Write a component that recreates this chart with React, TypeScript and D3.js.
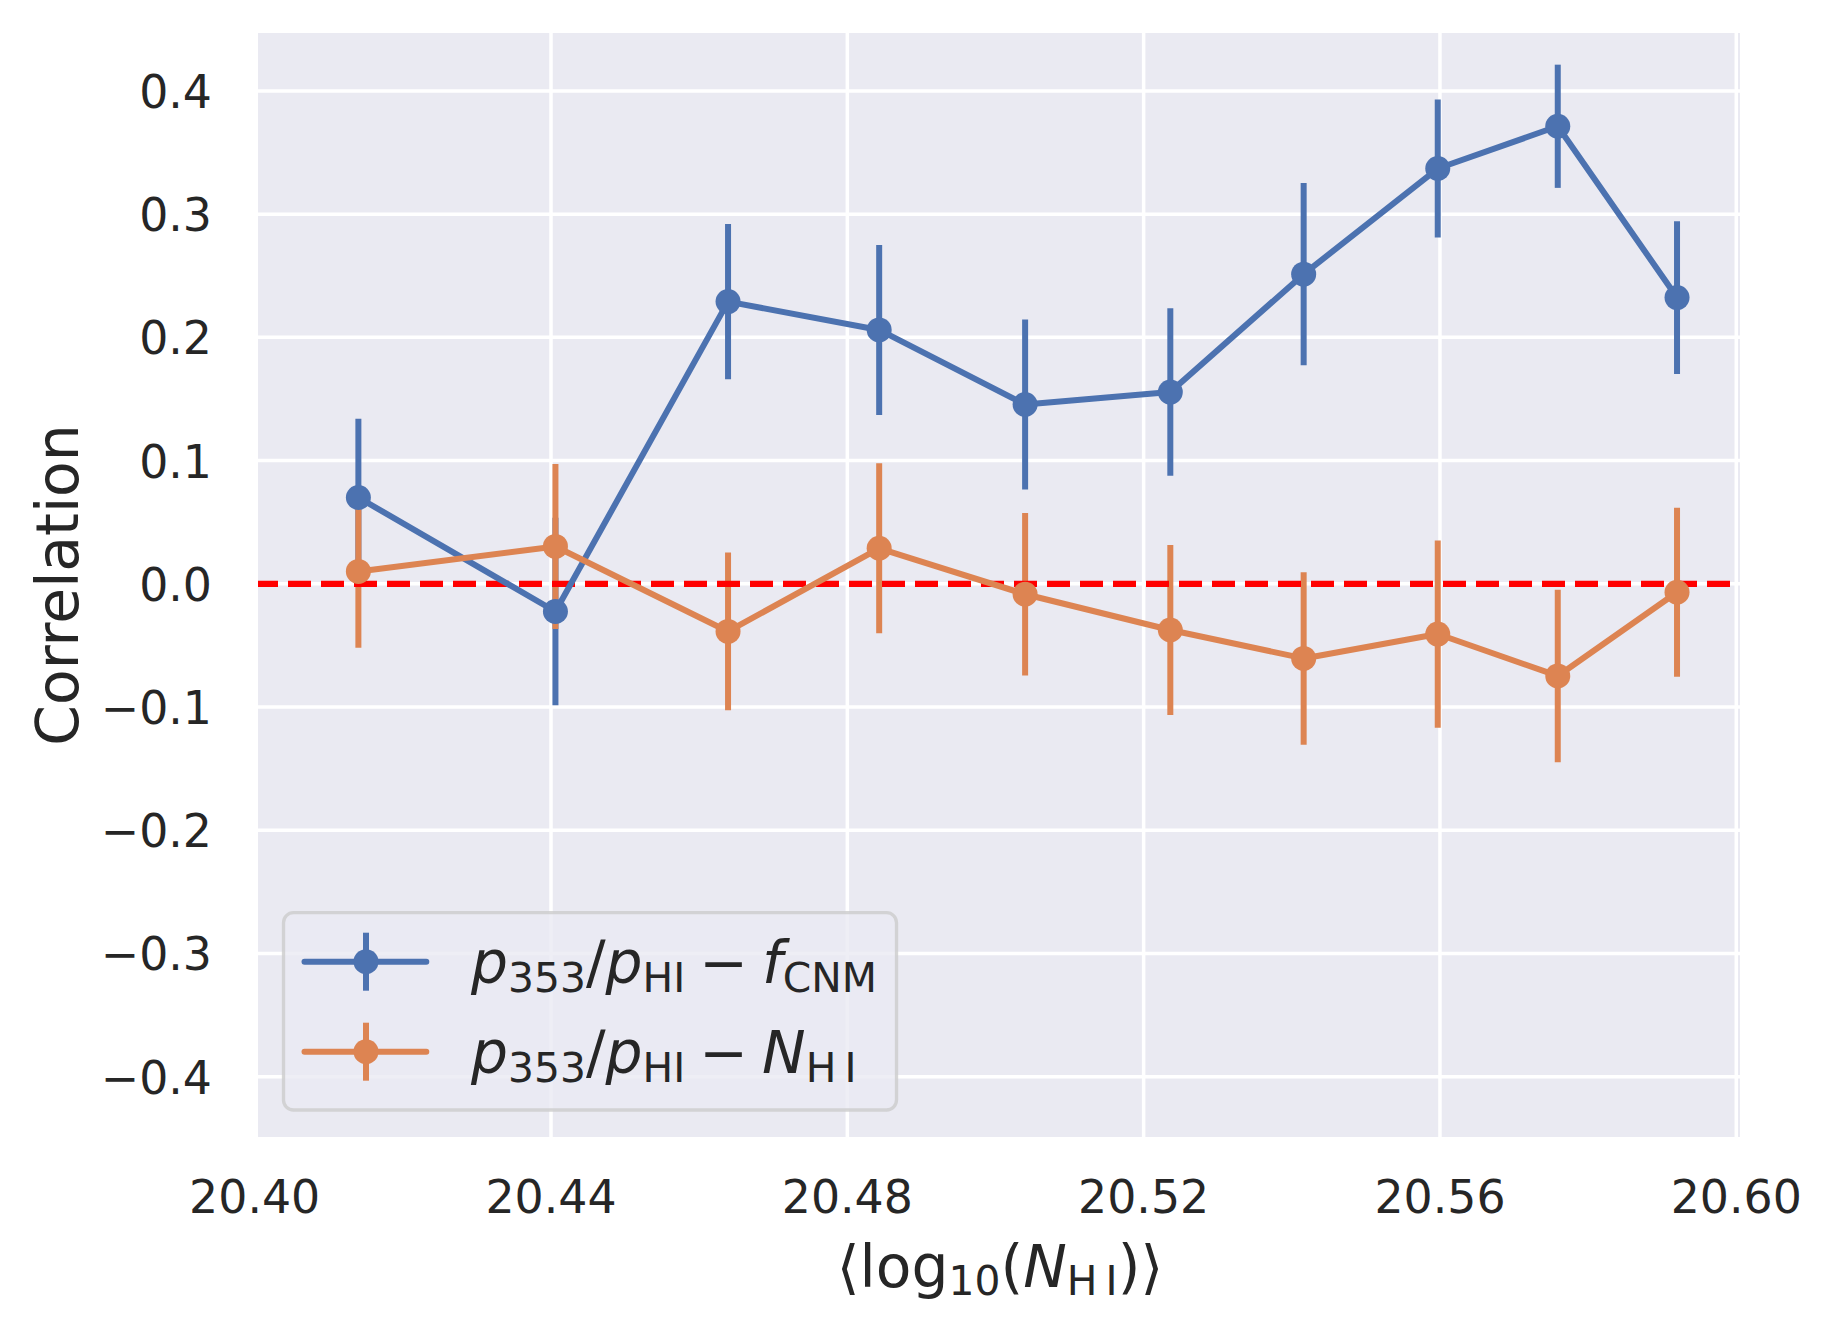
import React from "react";
import * as d3 from "d3";

// bin centres, <log10(N_HI)>
const binCentres = [20.414, 20.4406, 20.4639, 20.4843, 20.504, 20.5236, 20.5416, 20.5597, 20.5759, 20.592];

// p353/pHI - fCNM
const fcnmCorr = [0.07, -0.0225, 0.229, 0.206, 0.1455, 0.1556, 0.2513, 0.337, 0.3713, 0.2323];
const fcnmErr = [0.064, 0.076, 0.063, 0.069, 0.069, 0.068, 0.074, 0.056, 0.05, 0.062];

// p353/pHI - NHI
const nhiCorr = [0.01, 0.0303, -0.0387, 0.0288, -0.0085, -0.0375, -0.0606, -0.0408, -0.0748, -0.0069];
const nhiErr = [0.062, 0.067, 0.064, 0.069, 0.066, 0.069, 0.07, 0.076, 0.07, 0.0685];

const xTicks = [20.4, 20.44, 20.48, 20.52, 20.56, 20.6];
const yTicks = [-0.4, -0.3, -0.2, -0.1, 0, 0.1, 0.2, 0.3, 0.4];

type MathPart = { t: string; italic?: boolean; sub?: boolean; dx?: number };

const fcnmLabel: MathPart[] = [
  { t: "p", italic: true },
  { t: "353", sub: true },
  { t: "/" },
  { t: "p", italic: true },
  { t: "HI", sub: true },
  { t: "\u2212", dx: 0.24 },
  { t: "f", italic: true, dx: 0.24 },
  { t: "CNM", sub: true },
];
const nhiLabel: MathPart[] = [
  { t: "p", italic: true },
  { t: "353", sub: true },
  { t: "/" },
  { t: "p", italic: true },
  { t: "HI", sub: true },
  { t: "\u2212", dx: 0.24 },
  { t: "N", italic: true, dx: 0.24 },
  { t: "H\u2009I", sub: true },
];
const xLabel: MathPart[] = [
  { t: "\u27e8" },
  { t: "log" },
  { t: "10", sub: true },
  { t: "(" },
  { t: "N", italic: true },
  { t: "H\u2009I", sub: true },
  { t: ")" },
  { t: "\u27e9" },
];

const W = 1832;
const H = 1331;
const left = 258;
const right = 1740;
const top = 33;
const bottom = 1137;

const FONT = "'DejaVu Sans', sans-serif";
const INK = "#262626";
const BLUE = "#4C72B0";
const ORANGE = "#DD8452";
const LW = 6;
const R = 12.5;

const x = d3.scaleLinear().domain([20.40045, 20.6005]).range([left, right]);
const y = d3.scaleLinear().domain([-0.449, 0.447]).range([bottom, top]);

const series = [
  { key: "fcnm", values: fcnmCorr, errors: fcnmErr, color: BLUE, label: fcnmLabel },
  { key: "nhi", values: nhiCorr, errors: nhiErr, color: ORANGE, label: nhiLabel },
];

function mathSpans(parts: MathPart[], size: number, shift: number) {
  let cur = 0;
  return parts.map((p, i) => {
    const target = p.sub ? shift : 0;
    const dy = target - cur;
    cur = target;
    return (
      <tspan
        key={i}
        dy={dy !== 0 ? dy : undefined}
        dx={p.dx ? p.dx * size : undefined}
        fontStyle={p.italic ? "italic" : "normal"}
        fontSize={p.sub ? size * 0.7 : size}
      >
        {p.t}
      </tspan>
    );
  });
}

export default function App() {
  const line = d3
    .line<number>()
    .x((_, i) => x(binCentres[i]))
    .y((v) => y(v));

  return (
    <svg
      width={W}
      height={H}
      viewBox={`0 0 ${W} ${H}`}
      style={{ position: "absolute", left: 0, top: 0, background: "#fff" }}
      fontFamily={FONT}
    >
      <defs>
        <clipPath id="plotArea">
          <rect x={left} y={top} width={right - left} height={bottom - top} />
        </clipPath>
      </defs>

      <rect x={left} y={top} width={right - left} height={bottom - top} fill="#EAEAF2" />

      {/* grid */}
      <g clipPath="url(#plotArea)" stroke="#fff" strokeWidth={3.5}>
        {xTicks.map((t) => (
          <line key={t} x1={x(t)} x2={x(t)} y1={top} y2={bottom} />
        ))}
        {yTicks.map((t) => (
          <line key={t} x1={left} x2={right} y1={y(t)} y2={y(t)} />
        ))}
      </g>

      {/* tick labels */}
      <g fill={INK} fontSize={45.8}>
        {xTicks.map((t) => (
          <text key={t} x={x(t)} y={1213} textAnchor="middle">
            {t.toFixed(2)}
          </text>
        ))}
        {yTicks.map((t) => (
          <text key={t} x={212} y={y(t) + 17} textAnchor="end">
            {d3.format(".1f")(t).replace("-", "\u2212")}
          </text>
        ))}
      </g>

      <g clipPath="url(#plotArea)">
        {/* error bars */}
        {series.map((s) => (
          <g key={s.key + "-err"} stroke={s.color} strokeWidth={LW}>
            {s.values.map((v, i) => (
              <line
                key={i}
                x1={x(binCentres[i])}
                x2={x(binCentres[i])}
                y1={y(v - s.errors[i])}
                y2={y(v + s.errors[i])}
              />
            ))}
          </g>
        ))}

        {/* zero line */}
        <line x1={left} x2={right} y1={y(0)} y2={y(0)} stroke="#FF0000" strokeWidth={6.25} strokeDasharray="23 10" strokeDashoffset={3} />

        {/* data lines */}
        {series.map((s) => (
          <g key={s.key + "-line"}>
            <path d={line(s.values) ?? ""} fill="none" stroke={s.color} strokeWidth={LW} strokeLinejoin="round" strokeLinecap="round" />
            {s.values.map((v, i) => (
              <circle key={i} cx={x(binCentres[i])} cy={y(v)} r={R} fill={s.color} />
            ))}
          </g>
        ))}
      </g>

      {/* legend */}
      <g>
        <rect x={283.5} y={912.7} width={613} height={197.3} rx={10} fill="#EAEAF2" fillOpacity={0.8} stroke="#cccccc" strokeOpacity={0.8} strokeWidth={3.3} />
        {series.map((s, i) => {
          const cy = 961.7 + i * 90;
          return (
            <g key={s.key + "-leg"}>
              <line x1={304.5} x2={426.3} y1={cy} y2={cy} stroke={s.color} strokeWidth={LW} strokeLinecap="round" />
              <line x1={366} x2={366} y1={cy - 29} y2={cy + 29} stroke={s.color} strokeWidth={LW} />
              <circle cx={366} cy={cy} r={R} fill={s.color} />
              <text x={471} y={cy + 21.6} fill={INK} fontSize={58.3}>
                {mathSpans(s.label, 58.3, 8.4)}
              </text>
            </g>
          );
        })}
      </g>

      {/* axis labels */}
      <text x={1000} y={1287} textAnchor="middle" fill={INK} fontSize={58.3}>
        {mathSpans(xLabel, 58.3, 7.7)}
      </text>
      <text transform={`translate(78,${(top + bottom) / 2}) rotate(-90)`} textAnchor="middle" fill={INK} fontSize={58.3}>
        Correlation
      </text>
    </svg>
  );
}
